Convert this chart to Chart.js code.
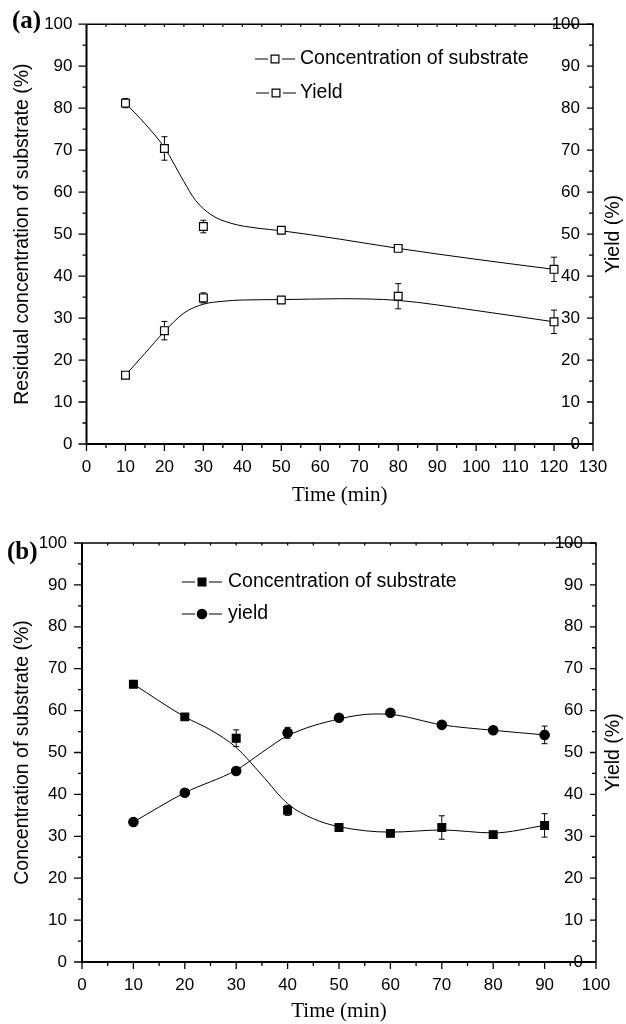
<!DOCTYPE html>
<html>
<head>
<meta charset="utf-8">
<script src="https://cdn.jsdelivr.net/npm/chart.js@4.4.1/dist/chart.umd.min.js"></script>
<style>
  html, body { margin: 0; padding: 0; background: #fff; }
  canvas { display: block; }
</style>
</head>
<body>
<canvas id="chartA" width="626" height="508"></canvas>
<canvas id="chartB" width="626" height="516"></canvas>
<script>
/* ===== (a) measured points ===== */
const timeA = [10, 20, 30, 50, 80, 120];
const concA = [81.2, 70.4, 51.8, 50.9, 46.6, 41.6];
const concErrA = [1.1, 2.8, 1.5, 0.8, 0.6, 2.9];
const yieldA = [16.4, 27.0, 34.8, 34.3, 35.2, 29.1];
const yieldErrA = [0.5, 2.2, 1.2, 0.8, 3.0, 2.8];

/* (a) smoothed curves */
const concCurveXA = [10, 15, 20, 25, 28, 32, 37, 44, 50, 65, 80, 100, 120];
const concCurveYA = [81.2, 76.3, 70.6, 62.5, 58.0, 54.6, 52.6, 51.4, 50.8, 48.8, 46.6, 44.0, 41.6];
const yieldCurveXA = [10, 15, 20, 25, 30, 35, 40, 50, 65, 80, 100, 120];
const yieldCurveYA = [16.4, 21.6, 26.8, 31.2, 33.3, 34.0, 34.3, 34.4, 34.6, 34.2, 31.8, 29.1];

/* ===== (b) measured points ===== */
const timeB = [10, 20, 30, 40, 50, 60, 70, 80, 90];
const concB = [66.3, 58.5, 53.4, 36.2, 32.1, 30.7, 32.1, 30.4, 32.6];
const concErrB = [0, 0, 2.0, 1.2, 0, 0, 2.8, 0, 2.8];
const yieldB = [33.4, 40.4, 45.6, 54.7, 58.3, 59.5, 56.6, 55.3, 54.2];
const yieldErrB = [0, 0, 0, 1.3, 0, 0, 0, 0, 2.1];

/* (b) smoothed curves */
const concCurveXB = [10, 20, 25, 30, 35, 40, 45, 50, 60, 70, 80, 90];
const concCurveYB = [66.3, 58.5, 55.4, 51.2, 44.6, 37.8, 34.2, 32.3, 31.0, 31.5, 30.8, 32.6];
const yieldCurveXB = [10, 20, 30, 35, 40, 50, 57, 60, 70, 80, 90];
const yieldCurveYB = [33.4, 40.4, 45.8, 50.0, 54.0, 58.0, 59.2, 59.1, 56.6, 55.3, 54.2];

const yTicks = [0, 10, 20, 30, 40, 50, 60, 70, 80, 90, 100];

Chart.defaults.font.family = "'Liberation Sans', Arial, sans-serif";
Chart.defaults.color = "#000";

const SANS = "'Liberation Sans', Arial, sans-serif";
const SERIF = "'Liberation Serif', 'Times New Roman', serif";

function toXY(xs, ys) {
  return xs.map((x, i) => ({ x, y: ys[i] }));
}

/* ===== error bars, drawn under the markers ===== */
const errorBars = {
  id: "errorBars",
  beforeDatasetsDraw(chart) {
    const ctx = chart.ctx;
    ctx.save();
    ctx.strokeStyle = "#000";
    ctx.lineWidth = 1;
    chart.data.datasets.forEach((ds, i) => {
      if (!ds.errors) return;
      const meta = chart.getDatasetMeta(i);
      const scale = chart.scales[meta.yAxisID];
      meta.data.forEach((pt, j) => {
        const e = ds.errors[j];
        if (!e) return;
        const top = scale.getPixelForValue(ds.data[j].y + e);
        const bot = scale.getPixelForValue(ds.data[j].y - e);
        ctx.beginPath();
        ctx.moveTo(pt.x, top); ctx.lineTo(pt.x, bot);
        ctx.moveTo(pt.x - 3, top); ctx.lineTo(pt.x + 3, top);
        ctx.moveTo(pt.x - 3, bot); ctx.lineTo(pt.x + 3, bot);
        ctx.stroke();
      });
    });
    ctx.restore();
  },
};

/* ===== Origin style frame and tick marks ===== */
const originFrame = {
  id: "originFrame",
  afterDraw(chart) {
    const { ctx, chartArea: a, scales } = chart;
    const x = scales.x, y = scales.y;
    ctx.save();
    ctx.strokeStyle = "#000";
    ctx.lineWidth = 1.3;
    ctx.beginPath();
    for (let v = 0; v <= x.max; v += 5) {
      const px = x.getPixelForValue(v);
      const major = v % 10 === 0;
      ctx.moveTo(px, a.bottom); ctx.lineTo(px, a.bottom + (major ? 7 : 4));
      ctx.moveTo(px, a.top); ctx.lineTo(px, a.top + 2.5);
    }
    for (let v = 0; v <= 100; v += 5) {
      const py = y.getPixelForValue(v);
      const major = v % 10 === 0;
      ctx.moveTo(a.left, py); ctx.lineTo(a.left - (major ? 8 : 4), py);
      ctx.moveTo(a.right, py); ctx.lineTo(a.right - (major ? 6 : 4), py);
    }
    ctx.stroke();

    ctx.lineWidth = 2;
    ctx.beginPath();
    ctx.moveTo(a.left, a.top); ctx.lineTo(a.left, a.bottom); ctx.lineTo(a.right, a.bottom);
    ctx.stroke();
    ctx.lineWidth = 1.5;
    ctx.beginPath();
    ctx.moveTo(a.left, a.top); ctx.lineTo(a.right, a.top); ctx.lineTo(a.right, a.bottom);
    ctx.stroke();
    ctx.restore();
  },
};

/* ===== panel letter, legend and right-hand title ===== */
function figureText(p) {
  return {
    id: "figureText",
    afterDraw(chart) {
      const { ctx, chartArea: a } = chart;
      ctx.save();
      ctx.fillStyle = "#000";
      ctx.strokeStyle = "#000";

      ctx.font = "bold 25px " + SERIF;
      ctx.textBaseline = "alphabetic";
      ctx.textAlign = "left";
      ctx.fillText(p.panel, p.panelX, p.panelY);

      ctx.font = "19.5px " + SANS;
      ctx.textBaseline = "middle";
      p.legend.forEach((row) => {
        ctx.lineWidth = 1;
        ctx.beginPath();
        ctx.moveTo(row.x, row.y); ctx.lineTo(row.x + 13, row.y);
        ctx.moveTo(row.x + 27, row.y); ctx.lineTo(row.x + 40, row.y);
        ctx.stroke();
        const cx = row.x + 20;
        ctx.beginPath();
        if (row.style === "circle") ctx.arc(cx, row.y, 4.7, 0, Math.PI * 2);
        else ctx.rect(cx - 3.9, row.y - 3.9, 7.8, 7.8);
        ctx.fillStyle = row.fill;
        ctx.fill();
        ctx.lineWidth = 1.2;
        ctx.stroke();
        ctx.fillStyle = "#000";
        ctx.fillText(row.label, p.legendTextX, row.y);
      });

      ctx.font = "19.5px " + SANS;
      ctx.textAlign = "center";
      ctx.translate(p.rightTitleX, (a.top + a.bottom) / 2);
      ctx.rotate(-Math.PI / 2);
      ctx.fillText("Yield (%)", 0, 0);
      ctx.restore();
    },
  };
}

function buildChart(id, p) {
  return new Chart(document.getElementById(id), {
    type: "scatter",
    data: {
      datasets: [
        {
          type: "line",
          data: toXY(p.concCurveX, p.concCurveY),
          borderColor: "#000",
          borderWidth: 1,
          pointRadius: 0,
          cubicInterpolationMode: "monotone",
          yAxisID: "y",
          order: 2,
        },
        {
          type: "line",
          data: toXY(p.yieldCurveX, p.yieldCurveY),
          borderColor: "#000",
          borderWidth: 1,
          pointRadius: 0,
          cubicInterpolationMode: "monotone",
          yAxisID: "y2",
          order: 2,
        },
        {
          data: toXY(p.time, p.conc),
          errors: p.concErr,
          pointStyle: "rect",
          pointRadius: 5.5,
          backgroundColor: p.concFill,
          borderColor: "#000",
          borderWidth: 1.2,
          yAxisID: "y",
          order: 0,
        },
        {
          data: toXY(p.time, p.yield),
          errors: p.yieldErr,
          pointStyle: p.yieldStyle,
          pointRadius: p.yieldStyle === "circle" ? 4.7 : 5.5,
          backgroundColor: p.yieldFill,
          borderColor: "#000",
          borderWidth: 1.2,
          yAxisID: "y2",
          order: 0,
        },
      ],
    },
    options: {
      responsive: false,
      animation: false,
      events: [],
      layout: { padding: { top: p.padTop, left: 0, right: 0, bottom: 0 } },
      plugins: { legend: { display: false }, tooltip: { enabled: false } },
      scales: {
        x: {
          type: "linear",
          position: "bottom",
          min: 0,
          max: p.xMax,
          ticks: { stepSize: 10, padding: 13, font: { size: 17 }, color: "#000" },
          grid: { display: false, drawTicks: false },
          border: { display: false },
          title: {
            display: true,
            text: "Time (min)",
            font: { family: SERIF, size: 21 },
            color: "#000",
            padding: { top: 0, bottom: 0 },
          },
          afterFit(s) { s.height = p.xHeight; },
        },
        y: {
          position: "left",
          min: 0,
          max: 100,
          afterBuildTicks(s) { s.ticks = yTicks.map((v) => ({ value: v })); },
          ticks: { padding: p.yPad, font: { size: 17 }, color: "#000" },
          grid: { display: false, drawTicks: false },
          border: { display: false },
          title: {
            display: true,
            text: p.yTitle,
            font: { size: 19.5 },
            color: "#000",
            padding: { top: 11, bottom: 0 },
          },
          afterFit(s) { s.width = p.leftW; },
        },
        y2: {
          position: "right",
          min: 0,
          max: 100,
          afterBuildTicks(s) { s.ticks = yTicks.map((v) => ({ value: v })); },
          // mirrored labels sit inside the frame, right-aligned 13px left of the axis
          ticks: { mirror: true, padding: -13, font: { size: 17 }, color: "#000" },
          grid: { display: false, drawTicks: false },
          border: { display: false },
          afterFit(s) { s.width = p.rightW; },
        },
      },
    },
    plugins: [errorBars, originFrame, figureText(p)],
  });
}

buildChart("chartA", {
  time: timeA, conc: concA, concErr: concErrA, yield: yieldA, yieldErr: yieldErrA,
  concCurveX: concCurveXA, concCurveY: concCurveYA,
  yieldCurveX: yieldCurveXA, yieldCurveY: yieldCurveYA,
  concFill: "#fff", yieldFill: "#fff", yieldStyle: "rect",
  xMax: 130, padTop: 17.5, xHeight: 64, leftW: 86.5, rightW: 33, yPad: 14,
  yTitle: "Residual concentration of substrate (%)",
  panel: "(a)", panelX: 12, panelY: 28, rightTitleX: 614, legendTextX: 300,
  legend: [
    { x: 255, y: 59, style: "rect", fill: "#fff", label: "Concentration of substrate" },
    { x: 256, y: 93, style: "rect", fill: "#fff", label: "Yield" },
  ],
});

buildChart("chartB", {
  time: timeB, conc: concB, concErr: concErrB, yield: yieldB, yieldErr: yieldErrB,
  concCurveX: concCurveXB, concCurveY: concCurveYB,
  yieldCurveX: yieldCurveXB, yieldCurveY: yieldCurveYB,
  concFill: "#000", yieldFill: "#000", yieldStyle: "circle",
  xMax: 100, padTop: 35, xHeight: 62, leftW: 82, rightW: 30, yPad: 15,
  yTitle: "Concentration of substrate (%)",
  panel: "(b)", panelX: 7, panelY: 51, rightTitleX: 614, legendTextX: 228,
  legend: [
    { x: 182, y: 74, style: "rect", fill: "#000", label: "Concentration of substrate" },
    { x: 182, y: 106, style: "circle", fill: "#000", label: "yield" },
  ],
});
</script>
</body>
</html>
